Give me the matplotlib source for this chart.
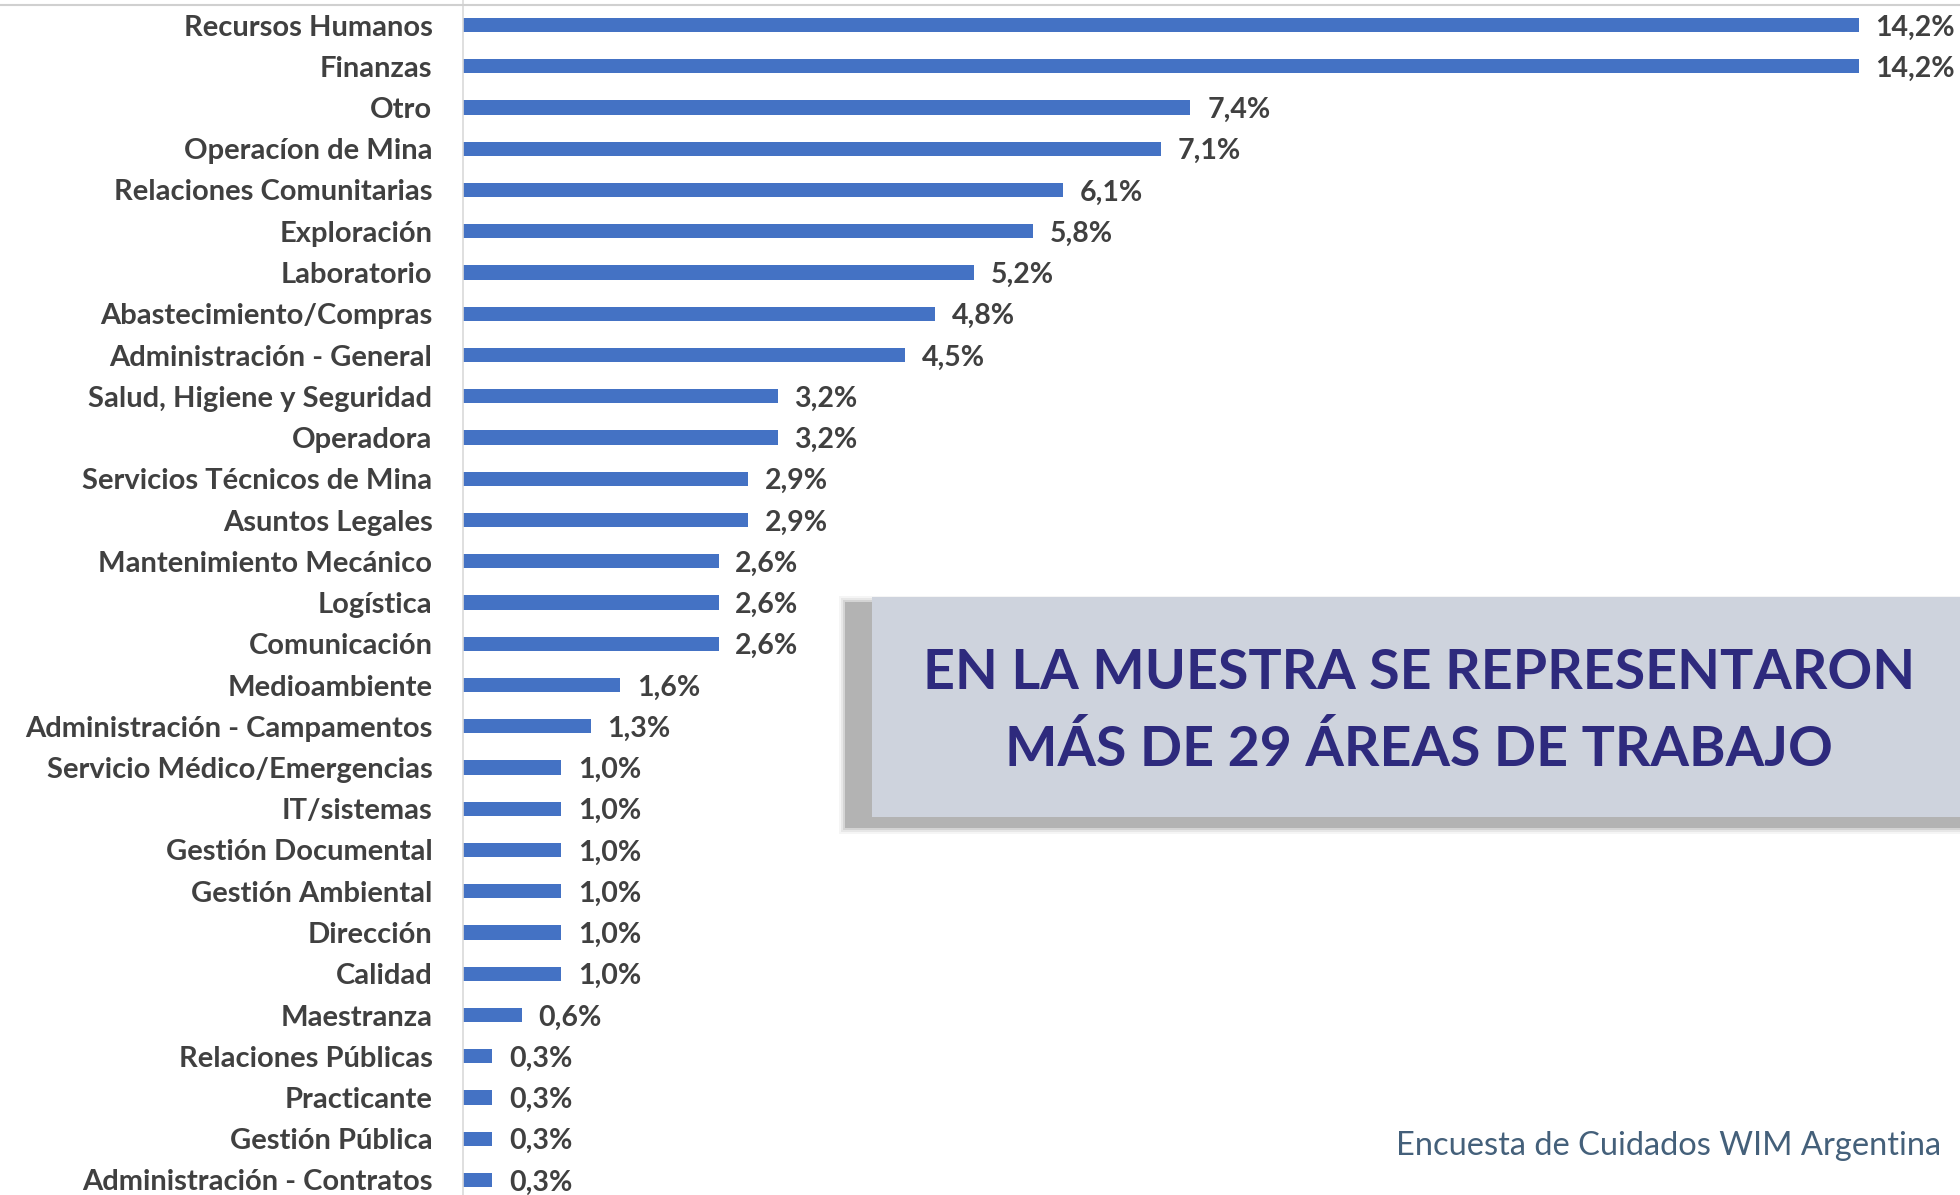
import matplotlib
matplotlib.use("Agg")
import matplotlib.pyplot as plt
from matplotlib.patches import Rectangle
from matplotlib.lines import Line2D

areas = ['Recursos Humanos', 'Finanzas', 'Otro', 'Operacíon de Mina',
         'Relaciones Comunitarias', 'Exploración', 'Laboratorio',
         'Abastecimiento/Compras', 'Administración - General',
         'Salud, Higiene y Seguridad', 'Operadora', 'Servicios Técnicos de Mina',
         'Asuntos Legales', 'Mantenimiento Mecánico', 'Logística', 'Comunicación',
         'Medioambiente', 'Administración - Campamentos',
         'Servicio Médico/Emergencias', 'IT/sistemas', 'Gestión Documental',
         'Gestión Ambiental', 'Dirección', 'Calidad', 'Maestranza',
         'Relaciones Públicas', 'Practicante', 'Gestión Pública',
         'Administración - Contratos']
porcentajes = [14.2, 14.2, 7.4, 7.1, 6.1, 5.8, 5.2, 4.8, 4.5, 3.2, 3.2, 2.9, 2.9,
               2.6, 2.6, 2.6, 1.6, 1.3, 1.0, 1.0, 1.0, 1.0, 1.0, 1.0, 0.6,
               0.3, 0.3, 0.3, 0.3]

W, H = 1960, 1195
fig = plt.figure(figsize=(W / 100, H / 100), dpi=100)
fig.patch.set_facecolor('white')

ax = fig.add_axes([463 / W, 0, 1 - 463 / W, 1])
ypos = list(range(len(areas)))
ax.barh(ypos, porcentajes, height=0.34, color='#4472C4')
ax.set_xlim(0, 1497 / 98.3)
ax.set_ylim((H - 25) / 41.25, -25 / 41.25)

# value labels next to each bar
for y, v in zip(ypos, porcentajes):
    ax.text(v + 0.17, y, f'{v:.1f}%'.replace('.', ','), va='center_baseline', ha='left',
            fontsize=20.5, fontweight='bold', color='#404040', family='Lato')

ax.set_yticks(ypos)
ax.set_yticklabels(areas, fontsize=21, fontweight='bold', color='#404040', family='Lato')
ax.tick_params(axis='y', length=0, pad=22)
ax.set_xticks([])
for s in ['top', 'right', 'bottom']:
    ax.spines[s].set_visible(False)
ax.spines['left'].set_color('#d9d9d9')
ax.spines['left'].set_linewidth(1.2)

# thin border at the top
fig.add_artist(Line2D([0, 1], [1 - 5 / H, 1 - 5 / H], color='#d0d0d0', lw=1.5))

# callout box with a soft shadow
sx0, sy0, sy1 = 845, 602, 828
for grow, a in [(6, 0.12), (4, 0.2), (2, 0.35), (0, 1.0)]:
    fig.add_artist(Rectangle(((sx0 - grow) / W, 1 - (sy1 + grow) / H),
                             (W - sx0 + grow) / W, (sy1 - sy0 + 2 * grow) / H,
                             facecolor='#b3b3b3', edgecolor='none', alpha=a))
x0, y0, y1 = 872, 597, 817
fig.add_artist(Rectangle((x0 / W, 1 - y1 / H), (W - x0) / W, (y1 - y0) / H,
                         facecolor='#CED3DD', edgecolor='none'))
fig.text(1419 / W, 1 - 673 / H, 'EN LA MUESTRA SE REPRESENTARON', ha='center', va='center',
         fontsize=40, fontweight='bold', color='#2E2A7D', family='Lato')
fig.text(1419 / W, 1 - 749 / H, 'MÁS DE 29 ÁREAS DE TRABAJO', ha='center', va='center',
         fontsize=40, fontweight='bold', color='#2E2A7D', family='Lato')

fig.text(1396 / W, 1 - 1146 / H, 'Encuesta de Cuidados WIM Argentina', ha='left', va='center',
         fontsize=23.5, color='#44607A', family='Lato')

fig.savefig('out.png', dpi=100)
